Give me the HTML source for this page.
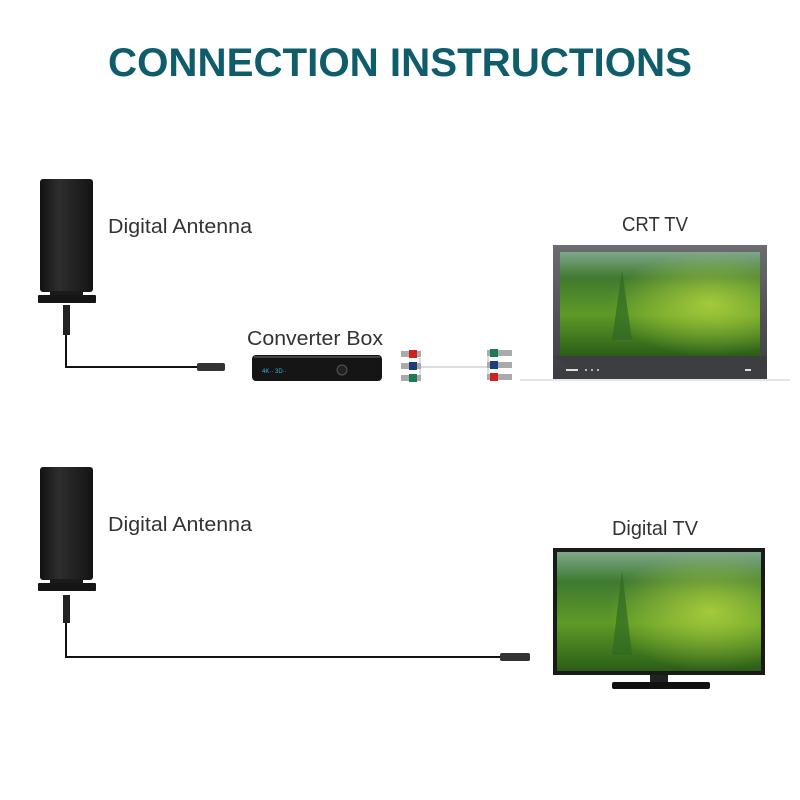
<!DOCTYPE html>
<html><head><style>
body{margin:0;background:#fff;}
svg{display:block;font-family:"Liberation Sans",sans-serif;}
</style></head><body>
<svg width="800" height="800" viewBox="0 0 800 800" xmlns="http://www.w3.org/2000/svg">
<defs>
<linearGradient id="ant" x1="0" x2="1">
<stop offset="0" stop-color="#111"/><stop offset="0.35" stop-color="#2e2e2e"/><stop offset="1" stop-color="#141414"/>
</linearGradient>
<linearGradient id="scr" x1="0" y1="0" x2="0" y2="1">
<stop offset="0" stop-color="#7fa88a"/><stop offset="0.25" stop-color="#3f7a30"/><stop offset="0.6" stop-color="#5e9a26"/><stop offset="1" stop-color="#2a5e18"/>
</linearGradient>
<radialGradient id="glow" cx="0.75" cy="0.5" r="0.5">
<stop offset="0" stop-color="#b8d840" stop-opacity="0.8"/><stop offset="1" stop-color="#b8d840" stop-opacity="0"/>
</radialGradient>
<linearGradient id="bez" x1="0" y1="0" x2="0" y2="1">
<stop offset="0" stop-color="#6a6c70"/><stop offset="1" stop-color="#3a3c40"/>
</linearGradient>
</defs>

<text x="108" y="76" font-size="40" font-weight="bold" fill="#0f5d6b" textLength="584" lengthAdjust="spacingAndGlyphs">CONNECTION INSTRUCTIONS</text>

<!-- Antenna 1 -->
<g>
<rect x="40" y="179" width="53" height="113" rx="3" fill="url(#ant)"/>
<rect x="50" y="291" width="33" height="5" fill="#1a1a1a"/>
<rect x="38" y="295" width="58" height="8" rx="1" fill="#151515"/>
<rect x="63" y="305" width="7" height="30" fill="#222"/>
<polyline points="66,335 66,367 200,367" fill="none" stroke="#111" stroke-width="2"/>
<rect x="197" y="363" width="28" height="8" rx="2" fill="#333"/>
</g>
<text x="108" y="233" font-size="20" fill="#333" textLength="144" lengthAdjust="spacingAndGlyphs">Digital Antenna</text>

<!-- Converter box -->
<text x="247" y="345" font-size="20" fill="#333" textLength="136" lengthAdjust="spacingAndGlyphs">Converter Box</text>
<rect x="252" y="355" width="130" height="26" rx="4" fill="#151515"/>
<rect x="254" y="356" width="126" height="2" fill="#444"/>
<text x="262" y="373" font-size="6" fill="#2fb8d8">4K·· 3D··</text>
<circle cx="342" cy="370" r="5" fill="#222" stroke="#555"/>

<!-- RCA cables -->
<g>
<line x1="420" y1="358" x2="420" y2="377" stroke="#ddd" stroke-width="2"/>
<line x1="420" y1="367" x2="488" y2="367" stroke="#ddd" stroke-width="2"/>
<line x1="488" y1="356" x2="488" y2="378" stroke="#ddd" stroke-width="2"/>
<rect x="401" y="351" width="20" height="6" fill="#aaa"/><rect x="409" y="350" width="8" height="8" fill="#c22"/>
<rect x="401" y="363" width="20" height="6" fill="#aaa"/><rect x="409" y="362" width="8" height="8" fill="#1b3d7a"/>
<rect x="401" y="375" width="20" height="6" fill="#aaa"/><rect x="409" y="374" width="8" height="8" fill="#1d7a55"/>
<rect x="487" y="350" width="25" height="6" fill="#aaa"/><rect x="490" y="349" width="8" height="8" fill="#1d7a55"/>
<rect x="487" y="362" width="25" height="6" fill="#aaa"/><rect x="490" y="361" width="8" height="8" fill="#1b3d7a"/>
<rect x="487" y="374" width="25" height="6" fill="#aaa"/><rect x="490" y="373" width="8" height="8" fill="#c22"/>
</g>

<!-- CRT TV -->
<text x="622" y="231" font-size="20" fill="#333" textLength="66" lengthAdjust="spacingAndGlyphs">CRT TV</text>
<line x1="520" y1="380" x2="790" y2="380" stroke="#ccc" stroke-width="1"/>
<rect x="553" y="245" width="214" height="134" fill="url(#bez)"/>
<rect x="560" y="252" width="200" height="104" fill="url(#scr)"/>
<rect x="560" y="252" width="200" height="104" fill="url(#glow)"/>
<polygon points="612,340 622,270 632,340" fill="#2f6a22" opacity="0.7"/>
<polygon points="553,356 767,356 767,379 580,379" fill="#3c3e42"/>
<rect x="566" y="369" width="12" height="2" fill="#ddd"/>
<circle cx="586" cy="370" r="1" fill="#ddd"/><circle cx="592" cy="370" r="1" fill="#ddd"/><circle cx="598" cy="370" r="1" fill="#ddd"/>
<rect x="745" y="369" width="6" height="2" fill="#ddd"/>

<!-- Antenna 2 -->
<g>
<rect x="40" y="467" width="53" height="113" rx="3" fill="url(#ant)"/>
<rect x="50" y="579" width="33" height="5" fill="#1a1a1a"/>
<rect x="38" y="583" width="58" height="8" rx="1" fill="#151515"/>
<rect x="63" y="595" width="7" height="28" fill="#222"/>
<polyline points="66,623 66,657 503,657" fill="none" stroke="#111" stroke-width="2"/>
<rect x="500" y="653" width="30" height="8" rx="2" fill="#333"/>
</g>
<text x="108" y="531" font-size="20" fill="#333" textLength="144" lengthAdjust="spacingAndGlyphs">Digital Antenna</text>

<!-- Digital TV -->
<text x="612" y="535" font-size="20" fill="#333" textLength="86" lengthAdjust="spacingAndGlyphs">Digital TV</text>
<rect x="553" y="548" width="212" height="127" fill="#1a1a1a"/>
<rect x="557" y="552" width="204" height="119" fill="url(#scr)"/>
<rect x="557" y="552" width="204" height="119" fill="url(#glow)"/>
<polygon points="612,655 622,570 632,655" fill="#2f6a22" opacity="0.7"/>
<rect x="650" y="675" width="18" height="7" fill="#222"/>
<rect x="612" y="682" width="98" height="7" rx="2" fill="#111"/>
</svg>
</body></html>
